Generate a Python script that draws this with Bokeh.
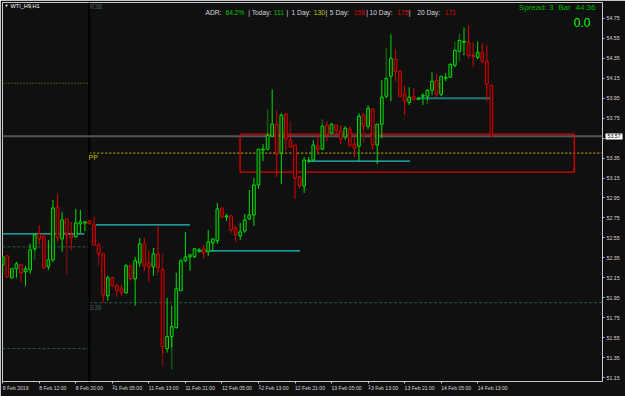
from bokeh.plotting import figure
from bokeh.models import Range1d, FixedTicker, Label, ColumnDataSource, LinearAxis
from bokeh.embed import file_html
from bokeh.resources import INLINE

# ---------------- data (H1 candles, WTI) ----------------
opens = [52.28, 52.37, 52.15, 52.24, 52.28, 52.21, 52.23, 52.44, 52.59, 52.56,
         52.26, 52.33, 52.86, 52.54, 52.74, 52.58, 52.56, 52.69, 52.70, 52.72,
         52.68, 52.48, 52.39, 51.97, 52.15, 52.07, 52.04, 52.00, 52.27, 52.14,
         52.30, 52.49, 52.30, 52.26, 52.39, 52.23, 51.44, 51.56, 51.65, 52.02,
         52.32, 52.36, 52.36, 52.42, 52.44, 52.41, 52.50, 52.52, 52.85, 52.76,
         52.77, 52.65, 52.57, 52.62, 52.74, 52.78, 53.08, 53.43, 53.44, 53.57,
         53.69, 53.40, 53.79, 53.53, 53.48, 53.16, 53.07, 53.32, 53.33, 53.47,
         53.44, 53.68, 53.60, 53.68, 53.62, 53.56, 53.64, 53.49, 53.47, 53.78,
         53.67, 53.84, 53.48, 53.69, 53.97, 54.17, 54.34, 54.22, 53.99, 53.91,
         53.97, 53.94, 53.97, 53.97, 54.03, 54.13, 53.99, 54.15, 54.16, 54.28,
         54.42, 54.51, 54.51, 54.38, 54.36, 54.41, 54.32, 54.08]
highs = [52.37, 52.38, 52.25, 52.31, 52.29, 52.27, 52.49, 52.59, 52.68, 52.59,
         52.53, 52.93, 52.99, 52.81, 52.74, 52.71, 52.84, 52.83, 52.72, 52.73,
         52.76, 52.50, 52.40, 52.17, 52.16, 52.09, 52.08, 52.29, 52.28, 52.36,
         52.55, 52.55, 52.42, 52.45, 52.67, 52.25, 51.95, 51.87, 52.20, 52.34,
         52.61, 52.39, 52.45, 52.45, 52.48, 52.63, 52.54, 52.90, 52.85, 52.79,
         52.78, 52.67, 52.70, 52.79, 53.03, 53.15, 53.44, 53.49, 53.60, 54.04,
         53.83, 53.80, 53.80, 53.60, 53.48, 53.17, 53.36, 53.36, 53.53, 53.59,
         53.67, 53.72, 53.70, 53.69, 53.68, 53.67, 53.67, 53.57, 53.80, 53.80,
         53.88, 53.85, 53.69, 54.13, 54.15, 54.59, 54.44, 54.23, 54.08, 54.06,
         54.05, 53.96, 54.00, 54.04, 54.21, 54.19, 54.17, 54.20, 54.30, 54.43,
         54.53, 54.66, 54.68, 54.51, 54.52, 54.50, 54.48, 54.08]
lows = [52.19, 52.15, 52.14, 52.15, 52.11, 52.07, 52.19, 52.42, 52.48, 52.24,
        52.23, 52.31, 52.51, 52.41, 52.49, 52.43, 52.55, 52.60, 52.62, 52.69,
        52.47, 52.36, 51.90, 51.92, 52.06, 51.96, 51.97, 51.99, 52.12, 51.87,
        52.26, 52.22, 52.11, 52.17, 52.20, 51.39, 51.40, 51.45, 51.64, 52.02,
        52.31, 52.22, 52.35, 52.40, 52.34, 52.37, 52.41, 52.49, 52.75, 52.72,
        52.60, 52.51, 52.53, 52.60, 52.73, 52.67, 53.04, 53.32, 53.43, 53.57,
        53.16, 53.09, 53.42, 53.45, 52.94, 53.05, 53.00, 53.30, 53.32, 53.40,
        53.43, 53.52, 53.59, 53.59, 53.49, 53.53, 53.46, 53.36, 53.32, 53.63,
        53.64, 53.43, 53.29, 53.55, 53.95, 53.92, 54.12, 53.96, 53.78, 53.88,
        53.93, 53.93, 53.88, 53.93, 53.98, 53.96, 53.97, 54.12, 54.16, 54.26,
        54.42, 54.38, 54.35, 54.26, 54.34, 54.30, 53.92, 53.57]
closes = [52.36, 52.16, 52.24, 52.29, 52.20, 52.24, 52.43, 52.58, 52.54, 52.25,
          52.33, 52.85, 52.55, 52.73, 52.59, 52.55, 52.70, 52.71, 52.71, 52.69,
          52.48, 52.39, 51.98, 52.15, 52.07, 52.02, 52.00, 52.27, 52.14, 52.32,
          52.49, 52.27, 52.26, 52.39, 52.25, 51.46, 51.56, 51.66, 52.04, 52.32,
          52.36, 52.38, 52.44, 52.43, 52.40, 52.51, 52.54, 52.84, 52.76, 52.77,
          52.63, 52.58, 52.61, 52.73, 52.78, 53.08, 53.44, 53.44, 53.58, 53.69,
          53.39, 53.78, 53.54, 53.46, 53.15, 53.07, 53.33, 53.33, 53.48, 53.44,
          53.67, 53.59, 53.69, 53.63, 53.54, 53.65, 53.48, 53.45, 53.77, 53.67,
          53.85, 53.48, 53.69, 53.96, 54.15, 54.35, 54.22, 53.97, 53.92, 53.96,
          53.94, 53.95, 53.98, 54.03, 54.12, 53.99, 54.17, 54.16, 54.29, 54.43,
          54.53, 54.52, 54.38, 54.37, 54.41, 54.32, 54.09, 53.57]

# darker shadow segments drawn behind some candles (bar, upper, lower, bullish)
shadow_bars = [7, 14, 21, 35, 35, 37, 58, 63, 70, 79, 84, 93, 99, 100, 100]
shadow_hi = [52.44, 52.59, 52.39, 52.39, 51.46, 51.56, 53.84, 53.72, 53.74, 53.67,
             54.46, 53.97, 54.52, 54.60, 54.42]
shadow_lo = [52.33, 52.19, 52.27, 52.23, 51.26, 51.23, 53.58, 53.53, 53.67, 53.51,
             54.15, 53.89, 54.43, 54.53, 54.32]
shadow_up = [True, False, False, False, False, True, True, False, True, False,
             True, True, True, True, True]

x_tick_bars = [0, 8, 16, 24, 32, 40, 48, 56, 64, 72, 80, 88, 96, 104]
x_tick_labels = ["8 Feb 2019", "8 Feb 12:00", "8 Feb 20:00", "11 Feb 05:00",
                 "11 Feb 13:00", "11 Feb 21:00", "12 Feb 05:00", "12 Feb 13:00",
                 "12 Feb 21:00", "13 Feb 05:00", "13 Feb 13:00", "13 Feb 21:00",
                 "14 Feb 05:00", "14 Feb 13:00"]
y_ticks = [54.75, 54.55, 54.35, 54.15, 53.95, 53.75, 53.55, 53.35, 53.15, 52.95,
           52.75, 52.55, 52.35, 52.15, 51.95, 51.75, 51.55, 51.35, 51.15]
last_price = 53.57

# horizontal levels
prev_r38, prev_pp, prev_s38 = 54.10, 52.46, 51.44
pp_level, s38_level = 53.40, 51.90
sep_bar = 18.95
cyan_starts = [-0.05, 20.4, 42.7, 66.8]
cyan_ends = [17.85, 41.0, 65.1, 89.2]
cyan_levels = [52.59, 52.68, 52.42, 53.32]
teal_start, teal_end, teal_level = 90.9, 106.7, 53.95
zone_x0, zone_x1, zone_top, zone_bottom = 51.97, 125.15, 53.59, 53.21

adr_parts = [("ADR:", "w"), ("64.2%", "g"), ("| Today:", "w"), ("111", "g"), ("|", "w"),
             ("1 Day:", "w"), ("130", "y"), ("|", "w"), ("5 Day:", "w"), ("158", "r"),
             ("|", "w"), ("10 Day:", "w"), ("175", "r"), ("|", "w"), ("20 Day:", "w"), ("171", "r")]
adr_px = [205, 225, 247.7, 273.3, 286, 291, 313.3, 325, 329.3, 353.3, 365.7, 369, 396.7, 408.3, 416.7, 444.3]

# ---------------- layout helpers ----------------
BG = "#101010"
X0, X1 = -0.05, 131.33
Y0, Y1 = 51.11, 54.91
FL, FT, FW, FH = 2, 2, 600, 381


def X(px):
    return X0 + (px - FL) * (X1 - X0) / FW


def Y(py):
    return Y1 - (py - FT) * (Y1 - Y0) / FH


FONT = "Liberation Sans"

p = figure(width=625, height=396, output_backend="svg", toolbar_location=None,
           x_range=Range1d(X0, X1), y_range=Range1d(Y0, Y1),
           y_axis_location="right", x_axis_location="below",
           min_border_left=2, min_border_right=23, min_border_top=2, min_border_bottom=13,
           background_fill_color=BG, border_fill_color=BG)
p.grid.visible = False
p.outline_line_color = "#c8c8c8"
p.outline_line_width = 1

# axes
ya = p.yaxis[0]
ya.ticker = FixedTicker(ticks=y_ticks)
ya.major_label_overrides = {53.55: ""}
ya.axis_line_color = None
ya.major_tick_line_color = "#c8c8c8"
ya.major_tick_out = 2
ya.major_tick_in = 0
ya.minor_tick_line_color = None
ya.major_label_text_font = FONT
ya.major_label_text_font_size = "5.3px"
ya.major_label_text_color = "#d8d8d8"
ya.major_label_standoff = 2

# price tag: a second right axis with one thick white tick drawn back over the first
tag = LinearAxis(ticker=FixedTicker(ticks=[last_price]),
                 major_label_overrides={last_price: "53.57"})
tag.axis_line_color = None
tag.minor_tick_line_color = None
tag.major_tick_line_color = "#ffffff"
tag.major_tick_line_width = 6
tag.major_tick_line_cap = "butt"
tag.major_tick_out = 0
tag.major_tick_in = 17
tag.major_label_text_font = FONT
tag.major_label_text_font_size = "5.3px"
tag.major_label_text_color = "#000000"
tag.major_label_standoff = -15
p.add_layout(tag, "right")

xa = p.xaxis[0]
xa.ticker = FixedTicker(ticks=x_tick_bars)
xa.major_label_overrides = {b: t for b, t in zip(x_tick_bars, x_tick_labels)}
xa.major_label_orientation = -0.0001
xa.axis_line_color = None
xa.major_tick_line_color = "#c8c8c8"
xa.major_tick_out = 2
xa.major_tick_in = 0
xa.minor_tick_line_color = None
xa.major_label_text_font = FONT
xa.major_label_text_font_size = "5.1px"
xa.major_label_text_color = "#d8d8d8"
xa.major_label_standoff = 4

# levels left of separator
p.segment(x0=[X0], y0=[prev_r38], x1=[sep_bar], y1=[prev_r38], line_color="#8a8a00",
          line_width=1, line_dash="1 2")
p.segment(x0=[X0, X0], y0=[prev_pp, prev_s38], x1=[sep_bar, sep_bar], y1=[prev_pp, prev_s38],
          line_color="#2e5656", line_width=1, line_dash="3 2")
# levels right of separator
p.segment(x0=[sep_bar], y0=[pp_level], x1=[X1], y1=[pp_level], line_color="#c8c800",
          line_width=1, line_dash="2 2")
p.segment(x0=[sep_bar], y0=[s38_level], x1=[X1], y1=[s38_level], line_color="#2e5656",
          line_width=1, line_dash="3 2")

# separator
p.segment(x0=[sep_bar], y0=[Y0], x1=[sep_bar], y1=[Y1], line_color="#000000", line_width=2)

# current price line
p.segment(x0=[X0], y0=[last_price], x1=[X1], y1=[last_price], line_color="#4e565c", line_width=2)

# zone rectangle
p.quad(left=[zone_x0], right=[zone_x1], top=[zone_top], bottom=[zone_bottom],
       fill_color=None, line_color="#e00000", line_width=1.3)

# cyan levels
p.segment(x0=cyan_starts, y0=cyan_levels, x1=cyan_ends, y1=cyan_levels,
          line_color="#1fc4c4", line_width=1.2)
p.segment(x0=[teal_start], y0=[teal_level], x1=[teal_end], y1=[teal_level],
          line_color="#1e7878", line_width=2)

# shadows
p.vbar(x=shadow_bars, width=0.35, top=shadow_hi, bottom=shadow_lo,
       fill_color=["#0d5a0d" if u else "#6a0d0d" for u in shadow_up], line_color=None)

# candles
idx = list(range(len(opens)))
up = [c >= o for o, c in zip(opens, closes)]
col = ["#00e000" if u else "#e00000" for u in up]
fill = ["#062806" if u else "#280606" for u in up]
src = ColumnDataSource(dict(x=idx, h=highs, l=lows,
                            top=[max(o, c) for o, c in zip(opens, closes)],
                            bottom=[min(o, c) for o, c in zip(opens, closes)],
                            col=col, fill=fill))
p.segment(x0="x", y0="h", x1="x", y1="l", line_color="col", line_width=1, source=src)
p.vbar(x="x", width=0.6, top="top", bottom="bottom", fill_color="fill", line_color="col",
       line_width=1, source=src)


# texts
def lab(px, py, text, color, size, bold=False, align="left"):
    p.add_layout(Label(x=X(px), y=Y(py), text=text, text_align=align, text_baseline="middle",
                       text_font=FONT, text_font_size=size, text_color=color,
                       text_font_style="bold" if bold else "normal"))


lab(4, 5.5, "▼", "#ffffff", "4px")
lab(10, 5.3, "WTI_H9,H1", "#ffffff", "5.6px")
lab(89, 5.8, "R38", "#3c5c5c", "6.8px")
lab(88, 157.5, "PP", "#c8c800", "7px")
lab(89, 309, "S38", "#3c5c5c", "6.8px")

cmap = {"w": "#d8d8d8", "g": "#00c800", "y": "#c8c800", "r": "#e00000"}
for (t, c), px in zip(adr_parts, adr_px):
    lab(px, 11.7, t, cmap[c], "6.7px")

lab(518.3, 6.7, "Spread: 3", "#00b400", "8px")
lab(557.7, 6.7, "Bar", "#00b400", "8px")
lab(575, 6.7, "44:36", "#00b400", "8px")
lab(573.3, 22.5, "0.0", "#00ff00", "12px")

open("out.html", "w").write(file_html(p, INLINE))
